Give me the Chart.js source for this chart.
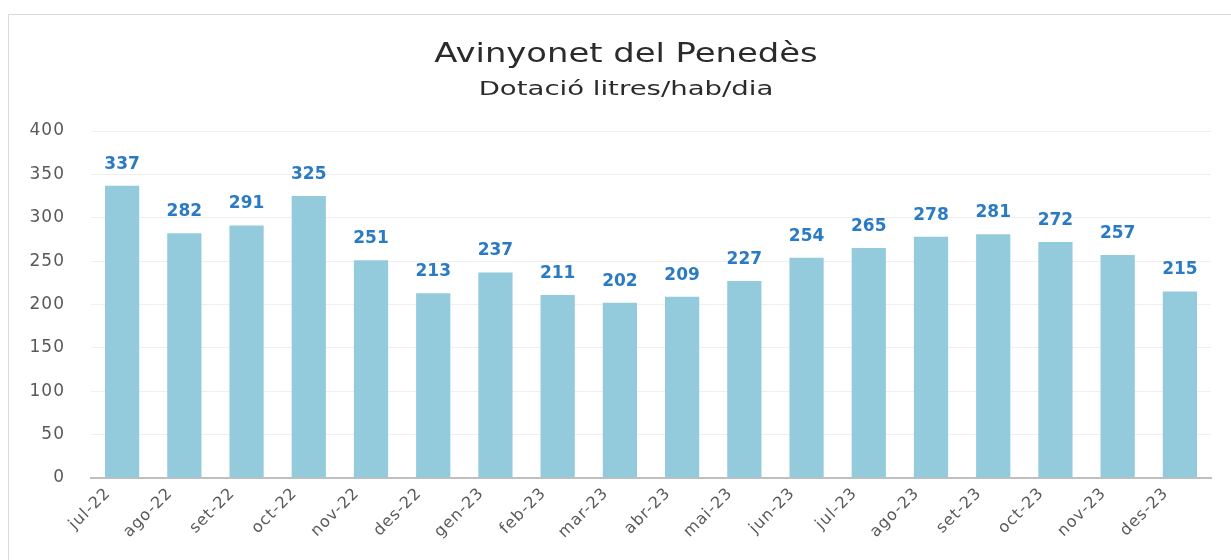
<!DOCTYPE html>
<html>
<head>
<meta charset="utf-8">
<script src="https://cdn.jsdelivr.net/npm/chart.js@4"></script>
<style>
  body { margin: 0; background: #fff; overflow: hidden; }
  #frame { position: absolute; left: 8px; top: 14px; width: 1240px; height: 560px; border: 1px solid #d9d9d9; }
  #wrap { position: absolute; left: 0; top: 0; width: 1222px; height: 545px; }
</style>
</head>
<body>
<div id="frame"><div id="wrap"><canvas id="myChart"></canvas></div></div>
<script>
const chartTitle = 'Avinyonet del Penedès';
const chartSubtitle = 'Dotació litres/hab/dia';
const months = ['jul-22', 'ago-22', 'set-22', 'oct-22', 'nov-22', 'des-22', 'gen-23', 'feb-23', 'mar-23',
  'abr-23', 'mai-23', 'jun-23', 'jul-23', 'ago-23', 'set-23', 'oct-23', 'nov-23', 'des-23'];
const dotacio = [337, 282, 291, 325, 251, 213, 237, 211, 202, 209, 227, 254, 265, 278, 281, 272, 257, 215];
const yTicks = [0, 50, 100, 150, 200, 250, 300, 350, 400];

// the source picture is stretched sideways, so the tick text gets a bit of letter spacing
const spacing = {
  id: 'spacing',
  beforeLayout(chart) { chart.ctx.letterSpacing = '1px'; },
  beforeDraw(chart) { chart.ctx.letterSpacing = '1px'; }
};

// title + subtitle, drawn stretched like the original
const titles = {
  id: 'titles',
  afterDraw(chart) {
    const ctx = chart.ctx;
    const cx = 617;
    ctx.save();
    ctx.letterSpacing = '0px';
    ctx.fillStyle = '#2b2b2b';
    ctx.textAlign = 'center';
    ctx.textBaseline = 'alphabetic';
    ctx.translate(cx, 0);
    ctx.scale(1.3, 1);
    ctx.font = '26px "DejaVu Sans"';
    ctx.fillText(chartTitle, 0, 47);
    ctx.restore();

    ctx.save();
    ctx.letterSpacing = '0px';
    ctx.fillStyle = '#2b2b2b';
    ctx.textAlign = 'center';
    ctx.translate(cx, 0);
    ctx.scale(1.45, 1);
    ctx.font = '19px "DejaVu Sans"';
    ctx.fillText(chartSubtitle, 0, 80);
    ctx.restore();
  }
};

// value labels above the bars
const barLabels = {
  id: 'barLabels',
  afterDatasetsDraw(chart) {
    const ctx = chart.ctx;
    const meta = chart.getDatasetMeta(0);
    ctx.save();
    ctx.letterSpacing = '0px';
    ctx.font = 'bold 17px "DejaVu Sans"';
    ctx.fillStyle = '#2a7bc4';
    ctx.textAlign = 'center';
    ctx.textBaseline = 'bottom';
    meta.data.forEach((bar, i) => {
      ctx.fillText(chart.data.datasets[0].data[i], bar.x, bar.y - 13);
    });
    ctx.restore();
  }
};

const adata = {
  labels: months,
  datasets: [{
    label: 'Dotació',
    data: dotacio,
    backgroundColor: '#93cbdc',
    categoryPercentage: 0.55,
    barPercentage: 1
  }]
};

const aconfig = {
  type: 'bar',
  data: adata,
  options: {
    responsive: true,
    maintainAspectRatio: false,
    animation: false,
    layout: { padding: { top: 116, bottom: 0, left: 0, right: 20 } },
    plugins: {
      legend: { display: false },
      tooltip: { enabled: false }
    },
    scales: {
      x: {
        grid: { display: false, drawTicks: false },
        border: { color: '#bfbfbf', width: 2 },
        ticks: {
          color: '#595959',
          font: { family: 'DejaVu Sans', size: 16 },
          maxRotation: 45,
          minRotation: 45,
          labelOffset: -14,
          padding: 6
        },
        afterFit(scale) { scale.height = 82; }
      },
      y: {
        min: 0,
        max: 400,
        afterBuildTicks(scale) { scale.ticks = yTicks.map(v => ({ value: v })); },
        grid: { color: '#efefef', drawTicks: false },
        border: { display: false },
        ticks: {
          color: '#595959',
          font: { family: 'DejaVu Sans', size: 17 },
          padding: 26
        },
        afterFit(scale) { scale.width = 82; }
      }
    }
  },
  plugins: [spacing, titles, barLabels]
};

const myChart = new Chart(document.getElementById('myChart'), aconfig);
</script>
</body>
</html>
